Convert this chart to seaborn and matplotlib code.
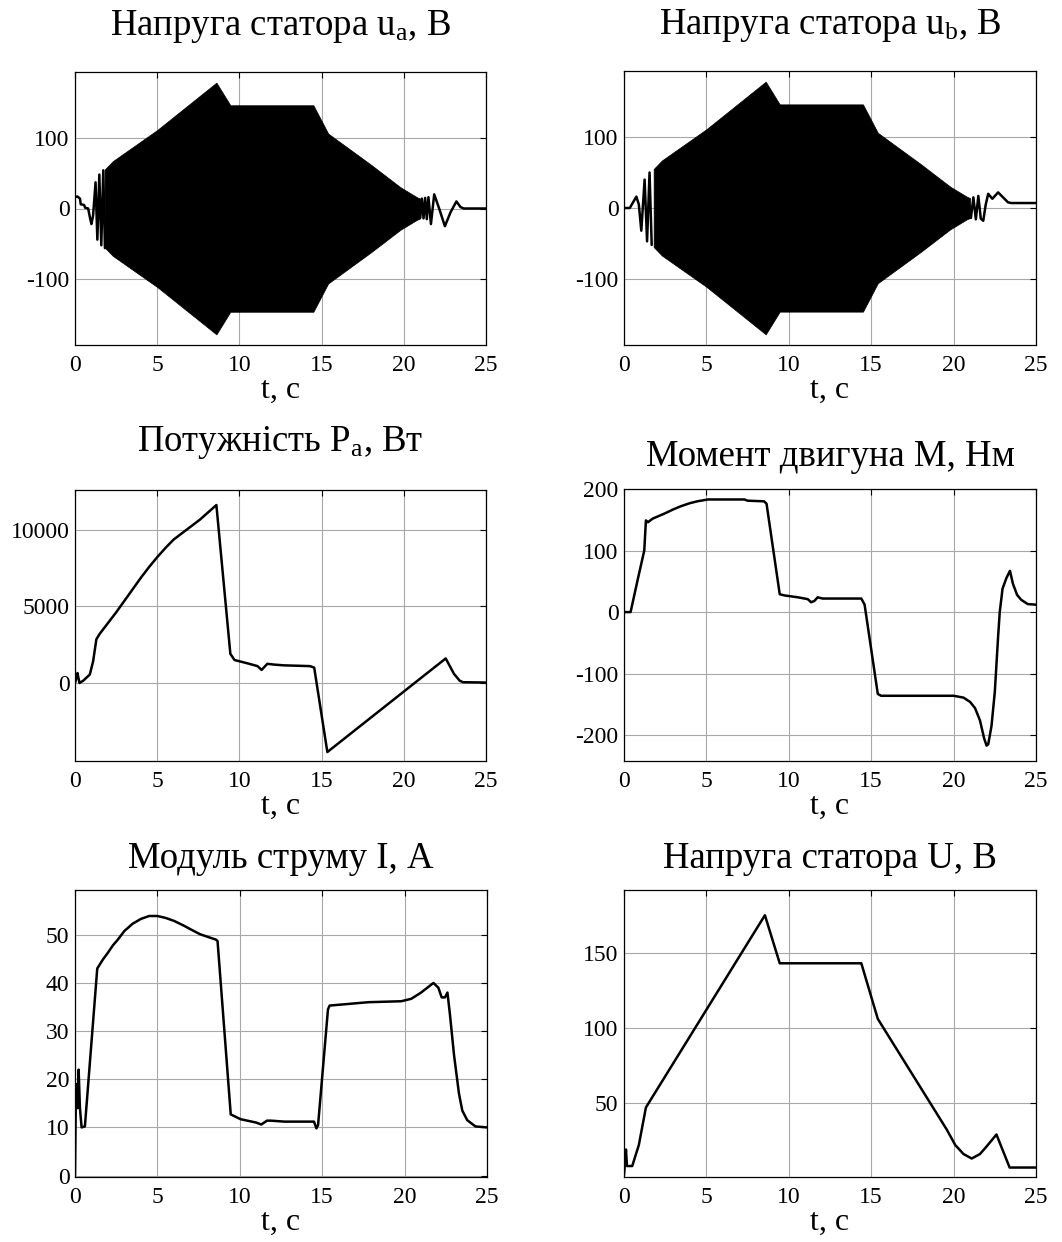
import seaborn as sns
import matplotlib.pyplot as plt

# ---- values ----
# u_a: sparse oscillations at start/end, envelope of the dense middle part
ua_start_t = [0.0, 0.15, 0.30, 0.35, 0.55, 0.62, 0.80, 0.92, 1.00, 1.10, 1.25, 1.36, 1.48, 1.60, 1.72, 1.82]
ua_start_v = [16, 17, 14, 6, 5, 1, 0, -14, -22, -10, 37, -44, 48, -52, 54, -56]
ua_end_t = [20.9, 21.0, 21.1, 21.2, 21.3, 21.4, 21.5, 21.65, 21.85, 22.15, 22.5, 22.85, 23.2, 23.45, 23.65, 25.0]
ua_end_v = [12, -13, 14, -14, 15, -15, 16, -22, 20, 0, -25, -5, 10, 2, 0, 0]

ub_start_t = [0.0, 0.35, 0.55, 0.75, 0.9, 1.05, 1.25, 1.4, 1.55, 1.68]
ub_start_v = [0, 0, 8, 16, 5, -32, 40, -47, 50, -52]
ub_end_t = [20.9, 21.05, 21.2, 21.35, 21.5, 21.65, 21.8, 21.95, 22.1, 22.35, 22.7, 23.0, 23.3, 23.5, 25.0]
ub_end_v = [12, -14, 15, -16, 17, -15, -18, 5, 20, 13, 22, 15, 8, 7, 7]

env_t = [1.8, 2.3, 5.0, 8.6, 9.45, 14.5, 15.4, 18.0, 19.8, 20.8, 21.0]
env_amp = [55, 67, 111, 178, 146, 146, 106, 62, 30, 16, 14]

# active power P_a, W
pa_t = [0, 0.1, 0.15, 0.27, 0.5, 0.9, 1.1, 1.3, 1.5, 2.0, 2.5, 3.0, 3.5, 4.0, 4.5, 5.0, 5.5,
        6.0, 6.8, 7.6, 8.6, 9.45, 9.7, 10.6, 11.1, 11.35, 11.7, 12.1, 12.7, 14.3, 14.55,
        15.35, 20.6, 22.55, 23.05, 23.4, 23.6, 25]
pa_v = [0, 400, 650, 0, 150, 550, 1400, 2850, 3200, 3900, 4600, 5350, 6100, 6850, 7550, 8200, 8800,
        9350, 10000, 10650, 11600, 1900, 1500, 1250, 1100, 850, 1250, 1200, 1150, 1100, 1000,
        -4500, -50, 1600, 600, 150, 50, 30]

# motor torque M, Nm
m_t = [0, 0.4, 0.85, 1.23, 1.33, 1.45, 1.75, 2.45, 3.0, 3.45, 4.0, 4.45, 5.1, 7.3, 7.5, 8.5,
       8.65, 9.45, 9.75, 10.55, 11.15, 11.35, 11.55, 11.75, 12.05, 14.4, 14.6, 15.4, 15.6,
       20.0, 20.6, 21.0, 21.3, 21.6, 21.85, 22.0, 22.1, 22.3, 22.5, 22.7, 22.8, 22.97, 23.2,
       23.42, 23.6, 23.85, 24.1, 24.5, 25]
m_v = [0, 0, 55, 100, 149, 146, 152, 160, 167, 172, 177, 180, 183, 183, 181, 180,
       176, 29, 27, 24, 21, 16, 18, 24, 22, 22, 12, -133, -136,
       -136, -139, -146, -156, -176, -205, -217, -215, -185, -130, -40, 0, 38, 55,
       67, 46, 28, 20, 13, 12]

# current modulus I, A
i_t = [0, 0.05, 0.1, 0.15, 0.22, 0.3, 0.4, 0.6, 1.35, 1.7, 2.0, 2.3, 2.6, 3.0, 3.5, 4.0, 4.5,
       5.0, 5.5, 6.0, 6.6, 7.2, 7.6, 8.2, 8.55, 8.65, 9.45, 10.05, 11.0, 11.3, 11.65, 11.9,
       12.7, 14.5, 14.65, 14.75, 15.35, 15.45, 17.8, 19.8, 20.4, 21.0, 21.75, 22.05, 22.25,
       22.45, 22.6, 22.75, 23.0, 23.3, 23.5, 23.8, 24.3, 25]
i_v = [0, 16, 19, 14, 22, 14, 10, 10.2, 43, 44.9, 46.3, 47.8, 49, 50.8, 52.3, 53.3, 53.9,
       53.9, 53.5, 52.9, 51.9, 50.8, 50.1, 49.4, 49, 48.7, 12.7, 11.7, 11, 10.6, 11.4, 11.4,
       11.2, 11.2, 9.8, 10.5, 34.5, 35.3, 36, 36.2, 36.7, 38, 40, 39, 37,
       37, 38, 33.5, 25, 17, 13.5, 11.5, 10.2, 10]

# stator voltage modulus U, V
u_t = [0, 0.12, 0.18, 0.5, 0.9, 1.33, 8.55, 9.45, 14.4, 15.4, 19.6, 20.1, 20.6, 21.1,
       21.6, 22.0, 22.6, 23.4, 25]
u_v = [2, 19, 8, 8, 22, 47, 175, 143, 143, 106, 32, 22, 16, 13,
       16, 21, 29, 7, 7]

x_ticks = [0, 5, 10, 15, 20, 25]

sns.set_theme(style="white", rc={"text.color": "black", "axes.labelcolor": "black",
                                 "xtick.color": "black", "ytick.color": "black"})
plt.rcParams['font.family'] = ['Liberation Serif', 'DejaVu Serif']
plt.rcParams['mathtext.fontset'] = 'custom'
plt.rcParams['mathtext.rm'] = 'Liberation Serif'
plt.rcParams['axes.unicode_minus'] = False

fig = plt.figure(figsize=(10.62, 12.42), dpi=100)

W, H = 1062, 1242


def make_axes(left, top, right, bottom):
    return fig.add_axes([left / W, 1 - bottom / H, (right - left) / W, (bottom - top) / H])


def style_axes(ax, ylim, yticks, title, pad):
    ax.set_xlim(0, 25)
    ax.set_ylim(*ylim)
    ax.set_xticks(x_ticks)
    ax.set_yticks(yticks)
    ax.grid(True, color='#a8a8a8', lw=0.8)
    ax.set_axisbelow(True)
    ax.tick_params(direction='in', top=True, right=True, length=4, width=0.8,
                   labelsize=17, colors='black')
    ax.tick_params(axis='x', pad=7)
    ax.tick_params(axis='y', pad=4)
    for sp in ax.spines.values():
        sp.set_color('black')
        sp.set_linewidth(0.9)
    ax.set_title(title, fontsize=26.5, pad=pad, color='black')
    ax.set_xlabel('t, с', fontsize=23, labelpad=0, color='black')
    ax.set_ylabel('')


lw = 1.8

# u_a
ax = make_axes(75, 72, 486, 345)
ax.fill_between(env_t, [-a for a in env_amp], env_amp, color='black', lw=0.5)
sns.lineplot(x=ua_start_t, y=ua_start_v, ax=ax, color='black', lw=lw)
sns.lineplot(x=ua_end_t, y=ua_end_v, ax=ax, color='black', lw=lw)
style_axes(ax, (-193, 193), [-100, 0, 100], 'Напруга статора $\\mathrm{u_a}$, В', 26.5)

# u_b
ax = make_axes(624, 71, 1036, 345)
ax.fill_between(env_t, [-a for a in env_amp], env_amp, color='black', lw=0.5)
sns.lineplot(x=ub_start_t, y=ub_start_v, ax=ax, color='black', lw=lw)
sns.lineplot(x=ub_end_t, y=ub_end_v, ax=ax, color='black', lw=lw)
style_axes(ax, (-193, 193), [-100, 0, 100], 'Напруга статора $\\mathrm{u_b}$, В', 26.5)

# P_a
ax = make_axes(75, 490, 486, 761)
sns.lineplot(x=pa_t, y=pa_v, ax=ax, color='black', lw=lw)
style_axes(ax, (-5085, 12580), [0, 5000, 10000], 'Потужність $\\mathrm{P_a}$, Вт', 28.3)

# M
ax = make_axes(624, 489, 1036, 761)
sns.lineplot(x=m_t, y=m_v, ax=ax, color='black', lw=lw)
style_axes(ax, (-242, 200), [-200, -100, 0, 100, 200], 'Момент двигуна М, Нм', 16.8)

# I
ax = make_axes(75, 890, 487, 1177)
sns.lineplot(x=i_t, y=i_v, ax=ax, color='black', lw=lw)
style_axes(ax, (-0.3, 59.3), [0, 10, 20, 30, 40, 50], 'Модуль струму I, А', 15.8)

# U
ax = make_axes(624, 890, 1036, 1177)
sns.lineplot(x=u_t, y=u_v, ax=ax, color='black', lw=lw)
style_axes(ax, (0.7, 191.8), [50, 100, 150], 'Напруга статора U, В', 15.8)

fig.savefig('out.png', dpi=100)
